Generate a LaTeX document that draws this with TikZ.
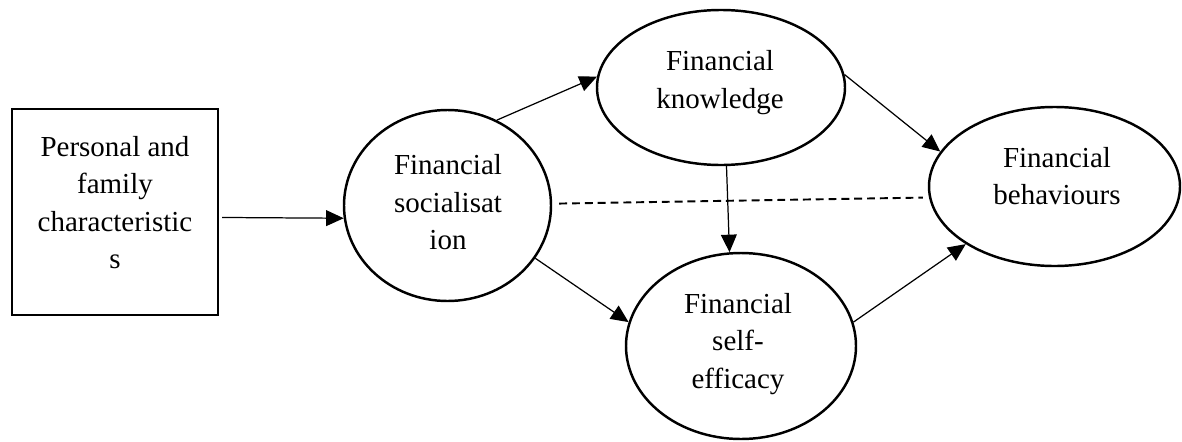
\documentclass[tikz,border=0pt]{standalone}
\usepackage{fontspec}
\setmainfont{Liberation Serif}
\usetikzlibrary{arrows.meta,shapes.geometric}

\tikzset{
  bolla/.style={ellipse, draw, line width=1.4pt, inner sep=0pt},
  testo/.style={align=center, inner sep=0pt},
  freccia/.style={->, line width=0.7pt},
}

\begin{document}
\begin{tikzpicture}[>={Triangle[length=10pt,width=9pt]}, font=\fontsize{16.5}{21.3}\selectfont]
\useasboundingbox (0,0) rectangle (23.64,8.82);
% Riquadro a sinistra
\node[draw, line width=1.4pt, minimum size=4.12cm] (pers) at (2.30,4.58) {};
\node[testo] (pers-t) at (2.30,4.77) {Personal and\\family\\characteristic\\s};

% Le quattro ellissi
\node[bolla, minimum width=4.14cm, minimum height=3.82cm] (soc) at (8.95,4.71) {};
\node[bolla, minimum width=4.96cm, minimum height=3.10cm] (know) at (14.42,7.07) {};
\node[bolla, minimum width=4.60cm, minimum height=3.72cm] (eff) at (14.82,1.90) {};
\node[bolla, minimum width=5.02cm, minimum height=3.18cm] (beh) at (21.09,5.09) {};

% Testi dentro le ellissi (un po' sopra il centro)
\node[testo] (soc-t) at (8.96,4.77) {Financial\\socialisat\\ion};
\node[testo] (know-t) at (14.40,7.17) {Financial\\knowledge};
\node[testo] (eff-t) at (14.76,1.94) {Financial\\self-\\efficacy};
\node[testo] (beh-t) at (21.14,5.30) {Financial\\behaviours};

% Frecce
\draw[freccia, shorten <=0.06cm] (pers.-3) -- (soc.187);
\draw[freccia] (soc.60) -- (know.175);
\draw[freccia] (soc.-31) -- (eff.168.5);
\draw[freccia] (know.-86) -- (eff.97);
\draw[freccia] (know.6) -- (beh.163);
\draw[freccia] (eff.12) -- (beh.213);

% Linea tratteggiata tra socializzazione e comportamenti
\draw[line width=1.1pt, dash pattern=on 4.5pt off 2.8pt, shorten <=0.14cm, shorten >=0.12cm] (soc.1) -- (beh.185);
\end{tikzpicture}
\end{document}
